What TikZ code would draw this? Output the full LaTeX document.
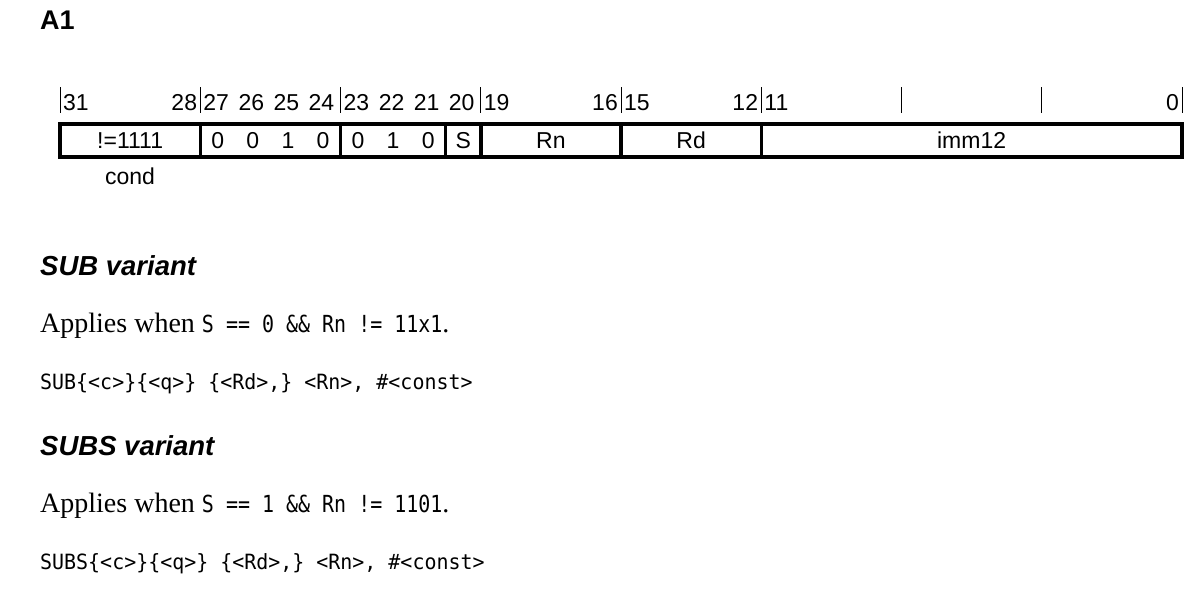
\documentclass[tikz,border=0pt]{standalone}
\usepackage{fontspec}
\setmainfont{Liberation Serif}
\setsansfont{Liberation Sans}
\setmonofont[FakeStretch=0.95]{DejaVu Sans Mono}
\newfontfamily\condmono[FakeStretch=0.85]{DejaVu Sans Mono}
\usetikzlibrary{positioning}
\newcommand{\bitw}{35.0625}

\begin{document}
\begin{tikzpicture}[x=1pt,y=-1pt,
    field/.style={draw, line width=3.5pt, minimum height=33pt, inner sep=0pt, font=\sffamily\fontsize{23}{27}\selectfont},
    bitval/.style={inner sep=0pt, font=\sffamily\fontsize{23}{27}\selectfont},
    bitnum/.style={inner sep=0pt, font=\sffamily\fontsize{23}{27}\selectfont},
    heading/.style={anchor=base west, inner sep=0pt, font=\sffamily\bfseries\itshape\fontsize{27.5}{32}\selectfont},
    prose/.style={anchor=base west, inner sep=0pt, font=\rmfamily\fontsize{28}{34}\selectfont},
    code/.style={anchor=base west, inner sep=0pt, font=\ttfamily\fontsize{21}{25}\selectfont}]
    \useasboundingbox (0,0) rectangle (1196,602);

    % Encoding title
    \node[anchor=base west, inner sep=0pt, font=\sffamily\bfseries\fontsize{27}{32}\selectfont] (title) at (40,30) {A1};

    % Bit position ticks
    \foreach \b in {32,28,24,20,16,12,8,4,0}
        \draw[line width=1pt] ({60+(32-\b)*\bitw},87) -- ({60+(32-\b)*\bitw},113);

    % Bit numbers
    \foreach \b in {31,27,26,25,24,23,22,21,20,19,15,11}
        \node[bitnum, anchor=base west] (n\b) at ({60+(31-\b)*\bitw+3},110) {\b};
    \foreach \b in {28,16,12,0}
        \node[bitnum, anchor=base east] (n\b) at ({60+(32-\b)*\bitw-3},110) {\b};

    % Instruction fields
    \foreach \nm/\hi/\lo/\txt in {cond/31/28/{!=1111}, opa/27/24/{}, opb/23/21/{}, sbit/20/20/S, rn/19/16/Rn, rd/15/12/Rd, imm/11/0/imm12}
        \node[field, minimum width={(\hi-\lo+1)*\bitw*1pt}] (\nm) at ({60+(31-\hi)*\bitw+(\hi-\lo+1)*\bitw/2},140.5) {\txt};

    % Fixed bit values
    \foreach \b/\v in {27/0,26/0,25/1,24/0,23/0,22/1,21/0}
        \node[bitval] (v\b) at ({60+(31.5-\b)*\bitw},140.5) {\v};

    \node[bitnum, anchor=base] (condlbl) at (130,184) {cond};

    % SUB variant
    \node[heading] (subhd) at (40,275) {SUB variant};
    \node[prose] (subwhen) at (40,332) {Applies when {\condmono\fontsize{23.5}{28}\selectfont S == 0 \&\& Rn != 11x1}.};
    \node[code] (subasm) at (40,389) {SUB\{<c>\}\{<q>\} \{<Rd>,\} <Rn>, \#<const>};

    % SUBS variant
    \node[heading] (subshd) at (40,455) {SUBS variant};
    \node[prose] (subswhen) at (40,512.5) {Applies when {\condmono\fontsize{23.5}{28}\selectfont S == 1 \&\& Rn != 1101}.};
    \node[code] (subsasm) at (40,569) {SUBS\{<c>\}\{<q>\} \{<Rd>,\} <Rn>, \#<const>};
\end{tikzpicture}
\end{document}
